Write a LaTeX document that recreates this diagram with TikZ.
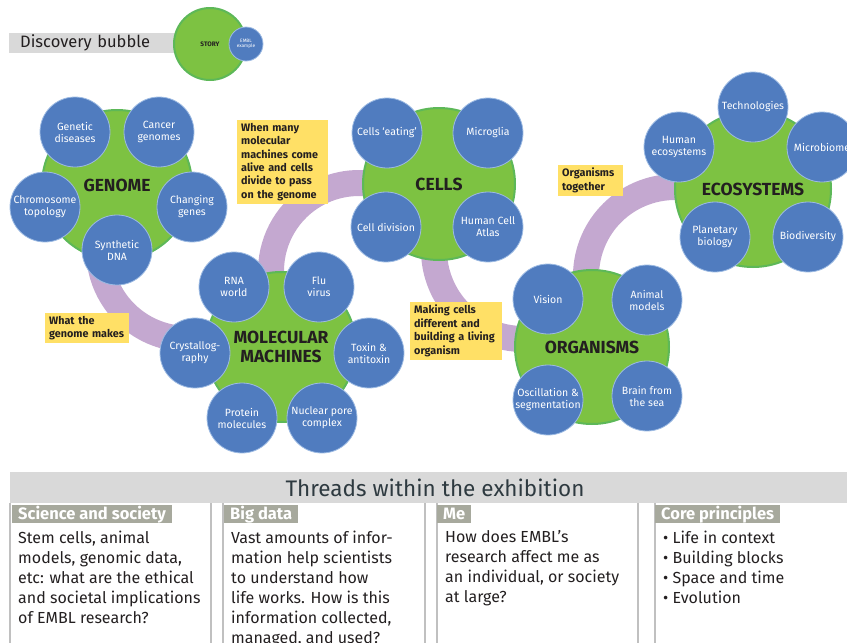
\documentclass[tikz,border=0pt]{standalone}
\usepackage{fontspec}
\setmainfont{Fira Sans}
\usetikzlibrary{calc}

\definecolor{hubgreen}{HTML}{7DC242}
\definecolor{hubrim}{HTML}{5DB858}
\definecolor{satblue}{HTML}{507CBF}
\definecolor{satrim}{HTML}{9DBBE3}
\definecolor{ringlilac}{HTML}{C4A8D0}
\definecolor{noteyellow}{HTML}{FFE066}
\definecolor{bargrey}{HTML}{D9D9D9}
\definecolor{taggrey}{HTML}{A7A99D}
\definecolor{ruleline}{HTML}{C0C0C0}
\definecolor{inkdark}{HTML}{231F20}
\definecolor{headink}{HTML}{2E3A40}

\begin{document}
\begin{tikzpicture}[x=1pt, y=-1pt, line join=round,
    hub/.style={circle, fill=hubgreen, draw=hubrim, line width=2pt, inner sep=0pt,
      align=center, text=inkdark, font=\fontsize{17.5}{19.5}\selectfont\bfseries},
    sat/.style={circle, fill=satblue, draw=satrim, line width=0.8pt, minimum size=70pt,
      inner sep=0pt, align=center, text=white, font=\fontsize{10.5}{12}\selectfont},
    ring/.style={draw=ringlilac, line width=26pt},
    note/.style={fill=noteyellow, anchor=north west, align=left, inner xsep=4pt,
      inner ysep=3pt, text=inkdark, font=\fontsize{10.8}{13.4}\selectfont\bfseries},
    tag/.style={fill=taggrey, anchor=north west, inner xsep=6pt, inner ysep=0pt,
      minimum height=18pt, text=white, font=\fontsize{16.5}{17}\selectfont\bfseries},
    body/.style={anchor=north west, align=left, inner sep=0pt, text=inkdark,
      font=\fontsize{16}{20}\selectfont},
    colrule/.style={draw=ruleline, line width=1.2pt}]
  \useasboundingbox (0,0) rectangle (847,643);
  % legend: discovery bubble
  \node[fill=bargrey, anchor=west, text width=159pt, inner xsep=11pt, minimum height=20pt,
    inner ysep=0pt, text=inkdark, font=\fontsize{16.5}{18}\selectfont] (disc) at (9,43) {Discovery bubble};
  \node[hub, minimum size=72pt, font=\fontsize{6.5}{7}\selectfont\bfseries] (story) at (210,44) {STORY};
  \node[sat, minimum size=34pt, font=\fontsize{4.8}{5.5}\selectfont] (embl) at (246,44) {EMBL\\example};
  % purple rings between the stories
  \coordinate (r1) at (188,250);
  \coordinate (r2) at (359,271);
  \coordinate (r3) at (523,250);
  \coordinate (r4) at (675,276);
  \draw[ring] ($(r1)+(190:89)$) arc[start angle=190, end angle=86, radius=89];
  \draw[ring] ($(r2)+(170:88)$) arc[start angle=170, end angle=280, radius=88];
  \draw[ring] ($(r3)+(200:89)$) arc[start angle=200, end angle=80, radius=89];
  \draw[ring] ($(r4)+(150:89)$) arc[start angle=150, end angle=290, radius=89];
  % the five stories
  \node[hub, minimum size=150pt] (genome) at (117,185) {GENOME};
  \node[hub, minimum size=150pt] (molmach) at (281,347) {MOLECULAR\\MACHINES};
  \node[hub, minimum size=152pt] (cells) at (439,184) {CELLS};
  \node[hub, minimum size=154pt] (organisms) at (592,347) {ORGANISMS};
  \node[hub, minimum size=156pt] (ecosys) at (753,189) {ECOSYSTEMS};
  % genome examples
  \node[sat] (gdis) at (75,132) {Genetic\\diseases};
  \node[sat] (gcan) at (159,132) {Cancer\\genomes};
  \node[sat] (gchr) at (45,207) {Chromosome\\topology};
  \node[sat] (gchg) at (192,207) {Changing\\genes};
  \node[sat] (gsyn) at (117,250) {Synthetic\\DNA};
  % molecular machines examples
  \node[sat] (mrna) at (234,287) {RNA\\world};
  \node[sat] (mflu) at (319,287) {Flu\\virus};
  \node[sat] (mcry) at (195,353) {Crystallog-\\raphy};
  \node[sat] (mtox) at (369,353) {Toxin \&\\antitoxin};
  \node[sat] (mpro) at (242,418) {Protein\\molecules};
  \node[sat] (mnpc) at (322,418) {Nuclear pore\\complex};
  % cells examples
  \node[sat] (ceat) at (387,133) {Cells ‘eating’};
  \node[sat] (cmic) at (488,133) {Microglia};
  \node[sat] (cdiv) at (386,227) {Cell division};
  \node[sat] (catl) at (488,227) {Human Cell\\Atlas};
  % organisms examples
  \node[sat] (ovis) at (548,299) {Vision};
  \node[sat] (oani) at (647,300) {Animal\\models};
  \node[sat] (oosc) at (548,400) {Oscillation \&\\segmentation};
  \node[sat] (obra) at (647,396) {Brain from\\the sea};
  % ecosystems examples
  \node[sat] (etec) at (753,107) {Technologies};
  \node[sat] (ehum) at (679,147) {Human\\ecosystems};
  \node[sat] (emic) at (822,147) {Microbiome};
  \node[sat] (epla) at (715,237) {Planetary\\biology};
  \node[sat] (ebio) at (808,237) {Biodiversity};
  % yellow captions on the rings
  \node[note, text width=83pt] (n1) at (237,120) {When many\\molecular\\machines come\\alive and cells\\divide to pass\\on the genome};
  \node[note, text width=76pt] (n2) at (45,313) {What the\\genome makes};
  \node[note, text width=84pt] (n3) at (410,302) {Making cells\\different and\\building a living\\organism};
  \node[note, text width=57pt] (n4) at (558,165) {Organisms\\together};
  % threads table
  \node[fill=bargrey, minimum width=850pt, minimum height=31pt, inner sep=0pt, text=headink,
    font=\fontsize{22.5}{24}\selectfont] (threads) at (435,487.5) {Threads within the exhibition};
  \draw[colrule] (10,503) -- (10,643);
  \draw[colrule] (211,503) -- (211,643);
  \draw[colrule] (223,503) -- (223,643);
  \draw[colrule] (425,503) -- (425,643);
  \draw[colrule] (437,503) -- (437,643);
  \draw[colrule] (638,503) -- (638,643);
  \draw[colrule] (655,503) -- (655,643);
  \node[tag] (tsci) at (12,505) {Science and society};
  \node[tag] (tbig) at (224,505) {Big data};
  \node[tag] (tme) at (437,505) {Me};
  \node[tag] (tcore) at (655,505) {Core principles};
  \node[body] (bsci) at (18,530.5) {Stem cells, animal\\models, genomic data,\\etc: what are the ethical\\and societal implications\\of EMBL research?};
  \node[body] (bbig) at (231,530.5) {Vast amounts of infor-\\mation help scientists\\to understand how\\life works. How is this\\information collected,\\managed, and used?};
  \node[body] (bme) at (445,530.5) {How does EMBL’s\\research affect me as\\an individual, or society\\at large?};
  \node[body] (bcore) at (663,530.5) {• Life in context\\• Building blocks\\• Space and time\\• Evolution};
\end{tikzpicture}
\end{document}
